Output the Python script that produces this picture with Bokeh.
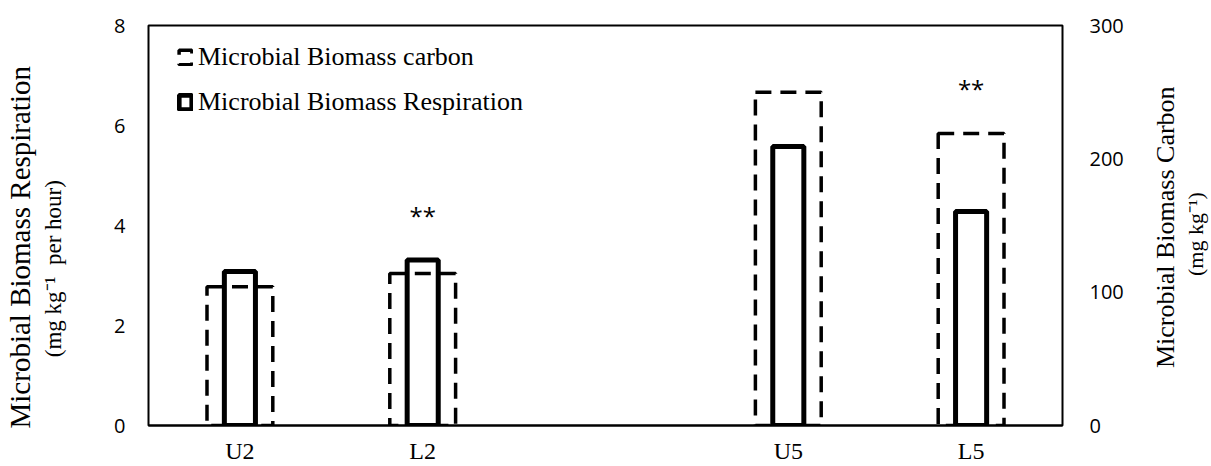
import math
from bokeh.plotting import figure
from bokeh.layouts import row
from bokeh.models import (Range1d, FactorRange, LinearAxis, FixedTicker,
                          ColumnDataSource, Legend, LegendItem)
from bokeh.embed import file_html
from bokeh.resources import INLINE
from bokeh.core.properties import value

# ---------------- data ----------------
factors = ["U2", "L2", " ", "U5", "L5"]          # blank slot separates the groups
treatments = ["U2", "L2", "U5", "L5"]
respiration = [3.08, 3.31, 5.58, 4.28]           # mg kg-1 per hour (left axis)
carbon = [104, 114, 250, 219]                    # mg kg-1 (right axis)
significance = ["", "**", "", "**"]
resp_ticks = [0, 2, 4, 6, 8]
carbon_ticks = [0, 100, 200, 300]

RESP_MAX = 8
CARBON_MAX = 300
ratio = CARBON_MAX / RESP_MAX
star_y = [max(r, c / ratio) + 0.9 for r, c in zip(respiration, carbon)]

src = ColumnDataSource(dict(x=treatments, resp=respiration, carbon=carbon,
                            sig=significance, sy=star_y))

SERIF = "Liberation Serif"
SANS = "Open Sans"
NB = "\u00a0"

FRAME_L, FRAME_R, FRAME_T, FRAME_B = 148, 1062, 25, 425
W, H = 1211, 466
MAIN_W = 1135                      # main figure; the rest holds the right-hand titles

p = figure(width=MAIN_W, height=H,
           x_range=FactorRange(*factors, range_padding=0),
           y_range=Range1d(0, RESP_MAX),
           output_backend="svg", toolbar_location=None,
           min_border_left=FRAME_L, min_border_right=MAIN_W - FRAME_R,
           min_border_top=FRAME_T, min_border_bottom=H - FRAME_B)
p.extra_y_ranges = {"carbon": Range1d(0, CARBON_MAX)}

p.xgrid.visible = False
p.ygrid.visible = False
p.outline_line_color = "black"
p.outline_line_width = 2
p.outline_line_alpha = 1
p.background_fill_color = "white"
p.border_fill_color = "white"

# ---------------- bars ----------------
r_resp = p.vbar(x="x", top="resp", width=0.17, source=src,
                fill_color=None, line_color="black", line_width=5)
r_carb = p.vbar(x="x", top="carbon", width=0.36, source=src, y_range_name="carbon",
                fill_color=None, line_color="black", line_width=3.5, line_dash="16 9")

p.text(x="x", y="sy", text="sig", source=src, text_align="center",
       text_baseline="middle", text_font=value(SANS), text_font_size="24px",
       text_color="black")

# ---------------- axes ----------------
xa = p.xaxis[0]
xa.major_tick_out = 0
xa.major_tick_in = 0
xa.axis_line_color = "black"
xa.axis_line_width = 2
xa.major_label_text_font = SERIF
xa.major_label_text_font_size = "24px"
xa.major_label_text_color = "black"
xa.major_label_standoff = 12

ya = p.yaxis[0]
ya.ticker = FixedTicker(ticks=resp_ticks)
ya.major_tick_out = 0
ya.major_tick_in = 0
ya.minor_tick_out = 0
ya.minor_tick_in = 0
ya.axis_line_color = None
ya.major_label_text_font = SANS
ya.major_label_text_font_size = "20px"
ya.major_label_text_color = "black"
ya.major_label_standoff = 23


def title_axis(text, size, standoff):
    return LinearAxis(ticker=FixedTicker(ticks=[]), axis_label=text,
                      axis_line_color=None, major_tick_out=0, major_tick_in=0,
                      minor_tick_out=0, minor_tick_in=0, major_label_standoff=0,
                      axis_label_text_font=SERIF, axis_label_text_font_size=size,
                      axis_label_text_font_style="normal", axis_label_text_color="black",
                      axis_label_standoff=standoff)


# left titles (trailing no-break spaces nudge the text down a little)
p.add_layout(title_axis("(mg kg\u207b\u00b9" + NB * 2 + "per hour)" + NB * 15, "23px", 46), "left")
p.add_layout(title_axis("Microbial Biomass Respiration" + NB * 6, "29px", 2), "left")

# right axis with ticks
yr = LinearAxis(y_range_name="carbon", ticker=FixedTicker(ticks=carbon_ticks),
                axis_line_color=None, major_tick_out=0, major_tick_in=0,
                minor_tick_out=0, minor_tick_in=0,
                major_label_text_font=SANS, major_label_text_font_size="20px",
                major_label_text_color="black", major_label_standoff=27)
p.add_layout(yr, "right")

# ---------------- legend ----------------
legend = Legend(items=[LegendItem(label="Microbial Biomass carbon", renderers=[r_carb]),
                       LegendItem(label="Microbial Biomass Respiration", renderers=[r_resp])],
                location=(29, 308), orientation="vertical",
                glyph_width=16, glyph_height=18, label_standoff=5, spacing=15,
                padding=10, margin=0,
                label_text_font=SERIF, label_text_font_size="26px",
                label_text_color="black",
                border_line_color=None, background_fill_alpha=0)
p.add_layout(legend, "center")

# ---------------- right-hand titles (read bottom-to-top) ----------------
side_w = W - MAIN_W
q = figure(width=side_w, height=H, x_range=Range1d(0, side_w), y_range=Range1d(H, 0),
           x_axis_type=None, y_axis_type=None,
           output_backend="svg", toolbar_location=None,
           min_border=0, min_border_left=0, min_border_right=0,
           min_border_top=0, min_border_bottom=0)
q.outline_line_color = None
q.xgrid.visible = False
q.ygrid.visible = False
q.background_fill_color = "white"
q.border_fill_color = "white"
q.text(x=[1165 - MAIN_W], y=[235], text=["Microbial Biomass Carbon"], angle=math.pi / 2,
       text_align="center", text_baseline="middle", text_font=value(SERIF),
       text_font_size="26px", text_color="black")
q.text(x=[1195 - MAIN_W], y=[243], text=["(mg kg\u207b\u00b9)"], angle=math.pi / 2,
       text_align="center", text_baseline="middle", text_font=value(SERIF),
       text_font_size="22px", text_color="black")

layout = row(p, q)
open("out.html", "w").write(file_html(layout, INLINE))
